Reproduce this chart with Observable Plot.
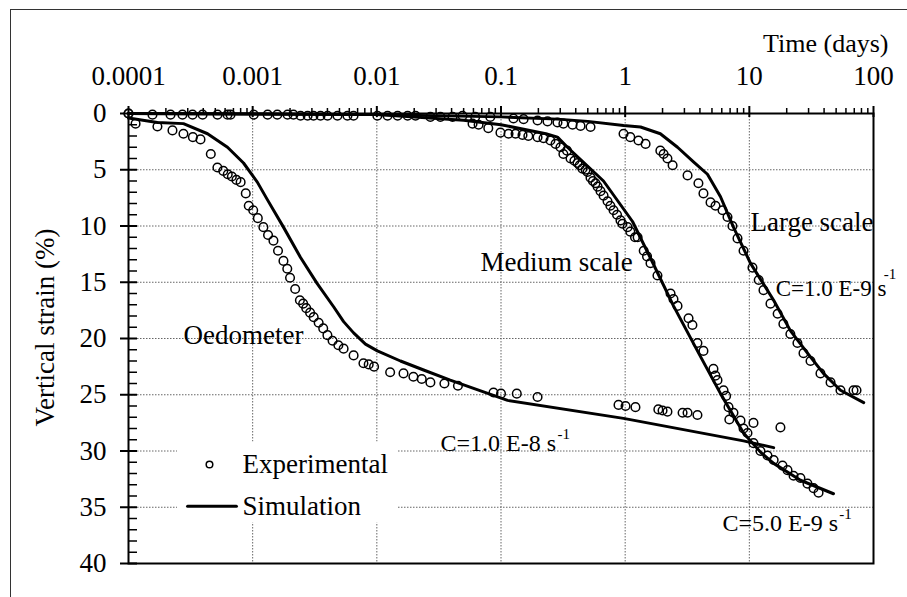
<!DOCTYPE html>
<html><head><meta charset="utf-8">
<script src="https://cdn.jsdelivr.net/npm/d3@7"></script>
<script src="https://cdn.jsdelivr.net/npm/@observablehq/plot@0.6"></script>
<style>
body{margin:0;background:#fff;}
#wrap{position:relative;width:907px;height:597px;overflow:hidden;background:#fff;}
#border{position:absolute;left:10px;top:9px;width:1000px;height:1000px;border-left:1px solid #333;border-top:1px solid #333;pointer-events:none;z-index:2;}
</style></head><body><div id="wrap"></div>
<script>
// ---- Axis ticks ----
const xMajor = [1e-4, 1e-3, 1e-2, 1e-1, 1, 10, 100];
const xMajorLabels = ["0.0001", "0.001", "0.01", "0.1", "1", "10", "100"];
const xGrid = [1e-3, 1e-2, 1e-1, 1, 10];
const yMajor = [0, 5, 10, 15, 20, 25, 30, 35, 40];
const yGrid = [5, 10, 15, 20, 25, 30, 35];

// ---- Oedometer ----
const oedExpT = [1e-4,1.14e-4,1.71e-4,2.26e-4,2.77e-4,3.3e-4,3.8e-4,4.6e-4,5.2e-4,5.8e-4,6.3e-4,6.8e-4,7.4e-4,8e-4,8.8e-4,9.3e-4,1.01e-3,1.1e-3,1.22e-3,1.33e-3,1.47e-3,1.6e-3,1.77e-3,1.9e-3,2.0e-3,2.2e-3,2.4e-3,2.55e-3,2.7e-3,2.9e-3,3.1e-3,3.4e-3,3.7e-3,4.0e-3,4.4e-3,4.9e-3,5.4e-3,6.5e-3,7.8e-3,8.6e-3,9.5e-3,1.28e-2,1.64e-2,1.97e-2,2.3e-2,2.7e-2,3.5e-2,4.5e-2,0.087,0.1,0.134,0.197,0.884,1.007,1.21,1.85,2.0,2.19,2.9,3.18,3.82,10.8,17.8];
const oedExpS = [0,0.9,1.16,1.5,1.8,2.1,2.3,3.6,4.8,5.1,5.4,5.6,5.9,6.1,7.1,8.2,8.6,9.3,10.1,10.8,11.3,12.2,13.1,13.8,14.6,15.6,16.6,16.9,17.3,17.7,18.1,18.6,19.1,19.7,20.2,20.6,20.9,21.5,22.2,22.3,22.5,23.0,23.1,23.4,23.6,23.9,24.0,24.2,24.8,24.9,24.9,25.2,25.9,26.0,26.1,26.3,26.4,26.5,26.6,26.6,26.8,27.5,27.9];
const oedSimT = [1e-4,1.71e-4,2.77e-4,4.33e-4,6.27e-4,8.44e-4,1.09e-3,1.32e-3,1.77e-3,2.43e-3,3.3e-3,4.5e-3,5.4e-3,6.5e-3,8.1e-3,0.0101,0.0155,0.0238,0.039,0.113,0.97,8.97,15.7];
const oedSimS = [0.4,0.8,0.9,1.8,3.0,4.4,6.1,7.7,10.1,12.8,15.1,17.2,18.5,19.5,20.5,21.1,22.0,22.8,23.7,25.5,27.1,29.1,29.7];

// ---- Medium scale ----
const medExpT = [1.56e-4,2.72e-4,3.28e-4,5.21e-4,6.63e-4,1.32e-3,1.91e-3,2.43e-3,3.09e-3,4.01e-3,5.8e-3,0.0101,0.0147,0.0205,0.027,0.0325,0.059,0.066,0.079,0.099,0.115,0.131,0.149,0.166,0.197,0.22,0.25,0.275,0.301,0.318,0.34,0.363,0.39,0.413,0.43,0.453,0.48,0.497,0.526,0.55,0.577,0.6,0.633,0.67,0.721,0.76,0.806,0.86,0.917,0.95,1.045,1.1,1.2,1.26,1.41,1.5,1.6,1.82,2.32,2.45,2.64,3.24,3.48,3.82,4.27,5.14,5.33,5.54,6.2,6.5,6.8,6.9,7.45,8.49,8.98,9.66,10.8,12.3,14.0,15.7,18.5,20.3,22.7,25.8,29.4,32.9,36.1];
const medExpS = [0.1,0.1,0.1,0.1,0.1,0.1,0.1,0.2,0.2,0.2,0.2,0.2,0.2,0.2,0.3,0.3,0.9,1.0,1.3,1.7,1.8,1.8,1.9,2.0,2.1,2.2,2.4,2.7,3.0,3.6,3.3,4.0,4.2,4.4,4.6,4.9,5.0,5.2,5.7,6.0,6.2,6.5,6.9,7.3,7.8,8.2,8.6,9.0,9.5,9.8,10.1,10.5,11.0,11.0,12.2,12.7,13.3,14.4,16.0,16.5,17.1,18.2,18.8,20.4,21.1,22.7,23.3,23.7,24.6,25.1,26.1,27.2,26.6,27.3,28.0,28.4,29.3,30.0,30.4,30.8,31.3,31.7,32.2,32.4,32.9,33.3,33.7];
const medSimT = [1e-4,0.01,0.05,0.1,0.23,0.285,0.343,0.669,1.146,1.69,2.45,3.82,5.86,8.98,12.3,15.7,25.8,47.6];
const medSimS = [0,0.1,0.6,1.0,1.8,2.1,3.0,6.0,9.6,13.4,17.1,21.1,24.9,28.4,30.1,31.1,32.6,33.8];

// ---- Large scale ----
const largeExpT = [1e-4,2.18e-4,3.95e-4,6.27e-4,1.02e-3,1.58e-3,2.13e-3,2.77e-3,3.52e-3,4.82e-3,6.49e-3,0.0122,0.0177,0.0407,0.049,0.062,0.082,0.126,0.152,0.197,0.237,0.285,0.318,0.377,0.437,0.526,0.97,1.10,1.28,1.46,1.92,2.04,2.19,2.41,3.18,3.89,4.27,4.87,5.34,6.08,6.67,7.31,8.03,8.98,10.6,11.9,13.0,14.8,16.9,18.8,21.4,24.4,27.3,31.1,37.4,45.1,54.2,69,73];
const largeExpS = [0,0.1,0.1,0.1,0.1,0.1,0.1,0.2,0.2,0.2,0.2,0.2,0.2,0.3,0.2,0.3,0.3,0.44,0.5,0.62,0.7,0.8,0.9,1.0,1.1,1.2,1.8,2.1,2.4,2.7,3.3,3.6,4.0,4.6,5.5,6.2,7.1,7.9,8.2,8.6,9.2,10.0,11.1,12.2,13.7,14.8,15.7,16.9,17.8,18.7,19.6,20.4,21.3,22.0,23.1,23.9,24.6,24.6,24.6];
const largeSimT = [1e-4,1e-3,1e-2,0.1,0.285,0.5,0.97,1.33,1.92,2.64,3.55,4.6,5.86,7.45,10.2,15.7,21.4,29.4,39.5,54.2,83.4];
const largeSimS = [0,0.05,0.1,0.3,0.5,0.7,1.07,1.2,1.8,3.0,4.3,5.4,7.4,10.1,13.3,16.6,19.3,21.3,23.1,24.6,25.7];

// ---- Annotations (position in data units) ----
const annText = ["Oedometer", "Medium scale", "Large scale", "C=1.0 E-9 s", "C=1.0 E-8 s", "C=5.0 E-9 s"];
const annT = [2.77e-4, 0.0684, 10.2, 16.3, 0.0326, 6.08];
const annS = [19.7, 13.2, 9.7, 15.6, 29.3, 36.4];
const annSize = [27, 27, 27, 23, 24, 24];
const supText = ["-1", "-1", "-1"];
const supT = [121, 0.285, 53];
const supS = [14.3, 28.5, 35.6];

// ---- Legend ----
const legendLabels = ["Experimental", "Simulation"];
const legendT = [8.28e-4, 8.28e-4];
const legendS = [31.2, 34.9];
const legendSymT = [4.49e-4];
const legendLineT = [2.99e-4, 7.4e-4];
const legendBox = {x1: 2.48e-4, x2: 0.0149, y1: 29.2, y2: 36.4};

const zip = (T, S) => T.map((t, i) => ({t, s: S[i]}));
const serif = "'Liberation Serif', 'Times New Roman', serif";

const exp = [...zip(oedExpT, oedExpS), ...zip(medExpT, medExpS), ...zip(largeExpT, largeExpS)];
const sims = [zip(oedSimT, oedSimS), zip(medSimT, medSimS), zip(largeSimT, largeSimS)];
const ann = annText.map((text, i) => ({text, t: annT[i], s: annS[i], size: annSize[i]}));
const sup = supText.map((text, i) => ({text, t: supT[i], s: supS[i]}));
const legend = legendLabels.map((text, i) => ({text, t: legendT[i], s: legendS[i]}));
const labelMap = new Map(xMajor.map((v, i) => [v, xMajorLabels[i]]));
const xMinor = [];
for (const d of xMajor.slice(0, -1)) for (let k = 2; k <= 9; k++) xMinor.push(d * k);
const yMinor = d3.range(0, 41).filter(v => v % 5 !== 0);

const chart = Plot.plot({
  width: 907, height: 597,
  marginLeft: 128, marginTop: 113, marginRight: 34, marginBottom: 34,
  style: {fontFamily: serif, fontSize: "27px", color: "black", background: "transparent"},
  x: {type: "log", domain: [1e-4, 100], label: null},
  y: {domain: [0, 40], reverse: true, label: null},
  marks: [
    Plot.ruleX(xGrid, {stroke: "#666", strokeDasharray: "1.5,1.5", strokeWidth: 1}),
    Plot.ruleY(yGrid, {stroke: "#666", strokeDasharray: "1.5,1.5", strokeWidth: 1}),
    Plot.rect([legendBox], {x1: "x1", x2: "x2", y1: "y1", y2: "y2", fill: "white"}),
    ...sims.map(d => Plot.line(d, {x: "t", y: "s", stroke: "black", strokeWidth: 3})),
    Plot.dot(exp, {x: "t", y: "s", r: 4.3, stroke: "black", strokeWidth: 1.5, fill: "none"}),
    Plot.frame({stroke: "black", strokeWidth: 2}),
    Plot.axisX({anchor: "top", ticks: xMajor, tickSize: 11, dy: 3, tickPadding: 21, fontSize: 27, tickFormat: d => labelMap.get(d), label: null, strokeWidth: 2}),
    Plot.axisX({anchor: "top", ticks: xMinor, tickSize: 6, tickFormat: () => "", label: null, strokeWidth: 1.5}),
    Plot.axisY({anchor: "left", ticks: yMajor, tickSize: 17, dx: 9, tickPadding: 14, fontSize: 27, tickFormat: d => String(d), label: null, strokeWidth: 2}),
    Plot.axisY({anchor: "left", ticks: yMinor, tickSize: 9, dx: 9, tickFormat: () => "", label: null, strokeWidth: 1.5}),
    Plot.text(["Time (days)"], {frameAnchor: "top-right", textAnchor: "end", lineAnchor: "middle", dx: 15, dy: -70, fontSize: 26}),
    Plot.text(["Vertical strain (%)"], {frameAnchor: "left", rotate: -90, textAnchor: "middle", lineAnchor: "middle", dx: -83, dy: -11, fontSize: 27}),
    Plot.text(ann, {x: "t", y: "s", text: "text", fontSize: d => d.size, textAnchor: "start", lineAnchor: "middle"}),
    Plot.text(sup, {x: "t", y: "s", text: "text", fontSize: 15, textAnchor: "start", lineAnchor: "middle"}),
    Plot.dot(legendSymT.map(t => ({t, s: legendS[0]})), {x: "t", y: "s", r: 3.3, stroke: "black", strokeWidth: 1.5, fill: "none"}),
    Plot.line(legendLineT.map(t => ({t, s: legendS[1]})), {x: "t", y: "s", stroke: "black", strokeWidth: 3}),
    Plot.text(legend, {x: "t", y: "s", text: "text", fontSize: 27, textAnchor: "start", lineAnchor: "middle"})
  ]
});
const wrap = document.getElementById("wrap");
wrap.appendChild(chart);
const b = document.createElement("div");
b.id = "border";
wrap.appendChild(b);
</script>
</body></html>
